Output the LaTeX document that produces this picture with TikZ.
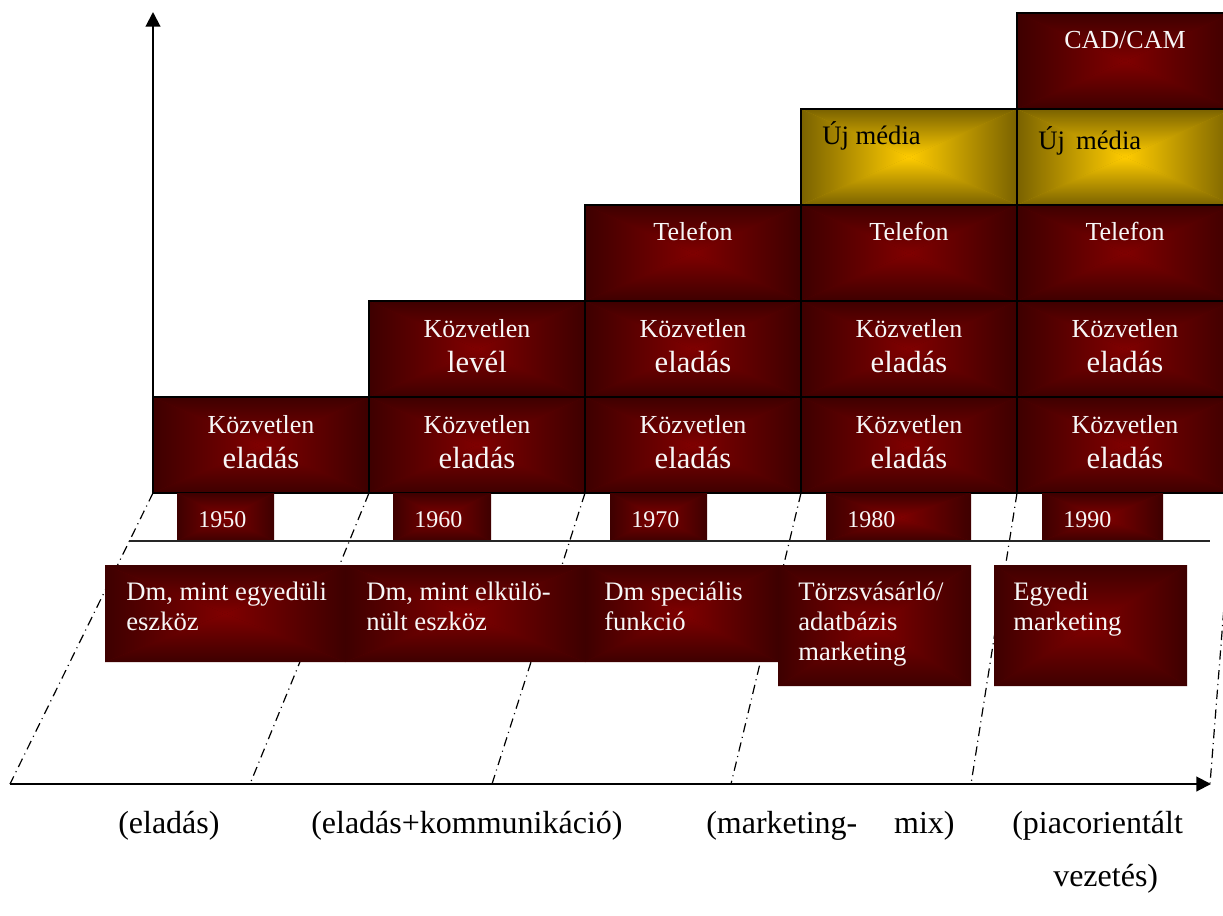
\documentclass[tikz,border=0pt]{standalone}
\usepackage{fontspec}
\setmainfont{Liberation Serif}
\usetikzlibrary{calc,arrows.meta}

\definecolor{redEdge}{HTML}{3E0000}
\definecolor{redMid}{HTML}{800000}
\definecolor{goldEdge}{HTML}{7A6200}
\definecolor{goldMid}{HTML}{FFCC00}

% rectangle filled with a centre-to-edge ("path") gradient
% #1,#2 = top-left corner, #3,#4 = bottom-right corner, #5 = edge colour, #6 = centre colour
\newcommand\gradbox[6]{%
  \coordinate (gc) at ($(#1,#2)!0.5!(#3,#4)$);
  \fill[#5!50!#6] (#1,#2) rectangle (#3,#4);
  \shade[top color=#5, bottom color=#6] (#1,#2) -- (#3,#2) -- (gc) -- cycle;
  \shade[top color=#6, bottom color=#5] (#1,#4) -- (#3,#4) -- (gc) -- cycle;
  \shade[left color=#5, right color=#6] (#1,#2) -- (#1,#4) -- (gc) -- cycle;
  \shade[left color=#6, right color=#5] (#3,#2) -- (#3,#4) -- (gc) -- cycle;
}
\newcommand\redbox[4]{\gradbox{#1}{#2}{#3}{#4}{redEdge}{redMid}}
\newcommand\goldbox[4]{\gradbox{#1}{#2}{#3}{#4}{goldEdge}{goldMid}}

\tikzset{
  txt/.style={inner sep=0pt, font=\fontsize{19.5}{22}\selectfont},
  wtxt/.style={txt, text=white!94!gray},
  dmtxt/.style={wtxt, font=\fontsize{20}{22}\selectfont},
  bigtxt/.style={wtxt, font=\fontsize{23}{26}\selectfont},
  yeartxt/.style={wtxt, font=\fontsize{18}{20}\selectfont},
  labtxt/.style={txt, text=black},
  eratxt/.style={txt, text=black, font=\fontsize{24}{26}\selectfont},
  cellframe/.style={draw=black, line width=1.5pt},
  axis/.style={line width=1.5pt, -{Triangle[length=11pt,width=11pt]}},
  guide/.style={line width=0.9pt, dash pattern=on 7pt off 3.5pt on 0.8pt off 3.5pt},
}

\begin{document}
\begin{tikzpicture}[x=0.75pt, y=-0.75pt]
\useasboundingbox (0,0) rectangle (1223,916);

% slanted guide lines from the column boundaries down to the time axis
\foreach \n/\xt/\xb in {1/153/10, 2/369/250, 3/585/492, 4/801/731, 5/1017/971, 6/1233/1210} {
  \coordinate (gt\n) at (\xt,493);
  \coordinate (gb\n) at (\xb,784);
  \draw[guide] (gt\n) -- (gb\n);
}

% ---------- stacked columns ----------
% row 1
\foreach \x/\xx in {153/369, 369/585, 585/801, 801/1017, 1017/1233} {\redbox{\x}{397}{\xx}{493}}
% row 2
\foreach \x/\xx in {369/585, 585/801, 801/1017, 1017/1233} {\redbox{\x}{301}{\xx}{397}}
% row 3
\foreach \x/\xx in {585/801, 801/1017, 1017/1233} {\redbox{\x}{205}{\xx}{301}}
% row 4 (new media)
\foreach \x/\xx in {801/1017, 1017/1233} {\goldbox{\x}{109}{\xx}{205}}
% row 5
\redbox{1017}{13}{1233}{109}

% cell frames
\foreach \x/\xx in {153/369, 369/585, 585/801, 801/1017, 1017/1233} {\draw[cellframe] (\x,397) rectangle (\xx,493);}
\foreach \x/\xx in {369/585, 585/801, 801/1017, 1017/1233} {\draw[cellframe] (\x,301) rectangle (\xx,397);}
\foreach \x/\xx in {585/801, 801/1017, 1017/1233} {\draw[cellframe] (\x,205) rectangle (\xx,301);}
\foreach \x/\xx in {801/1017, 1017/1233} {\draw[cellframe] (\x,109) rectangle (\xx,205);}
\draw[cellframe] (1017,13) rectangle (1233,109);

% cell texts
\foreach \n/\cx in {1/261, 2/477, 3/693, 4/909, 5/1125} {
  \node[wtxt, anchor=base] (k1\n) at (\cx,433) {Közvetlen};
  \node[bigtxt, anchor=base] (e1\n) at (\cx,468) {eladás};
}
\node[wtxt, anchor=base] (k22) at (477,337) {Közvetlen};
\node[bigtxt, anchor=base] (e22) at (477,372) {levél};
\foreach \n/\cx in {3/693, 4/909, 5/1125} {
  \node[wtxt, anchor=base] (k2\n) at (\cx,337) {Közvetlen};
  \node[bigtxt, anchor=base] (e2\n) at (\cx,372) {eladás};
  \node[wtxt, anchor=base] (t3\n) at (\cx,241) {Telefon};
}
\node[labtxt, anchor=base west, font=\fontsize{20}{22}\selectfont] (m4) at (822,145) {Új média};
\node[labtxt, anchor=base west, font=\fontsize{20}{22}\selectfont] (m5) at (1038,150) {Új\hspace{0.42em}média};
\node[wtxt, anchor=base] (cad) at (1125,49) {CAD/CAM};

% ---------- year strip ----------
\foreach \n/\x/\xx/\yr in {1/177/274/1950, 2/393/491/1960, 3/610/707/1970, 4/826/971/1980, 5/1042/1163/1990} {
  \redbox{\x}{493}{\xx}{541}
  \node[yeartxt, anchor=base west] (y\n) at (\x+21,527) {\yr};
}
\coordinate (sl) at (129,541);
\coordinate (sr) at (1210,541);
\draw[line width=1.5pt, black!85] (sl) -- (sr);

% ---------- role of direct marketing ----------
\redbox{105}{565}{345}{662}
\redbox{345}{565}{585}{662}
\redbox{585}{565}{778}{662}
\redbox{778}{565}{971}{686}
\redbox{994}{565}{1187}{686}
\node[dmtxt, anchor=base west] (d1a) at (126,600) {Dm, mint egyedüli};
\node[dmtxt, anchor=base west] (d1b) at (126,630) {eszköz};
\node[dmtxt, anchor=base west] (d2a) at (366,600) {Dm, mint elkülö-};
\node[dmtxt, anchor=base west] (d2b) at (366,630) {nült eszköz};
\node[dmtxt, anchor=base west] (d3a) at (604,600) {Dm speciális};
\node[dmtxt, anchor=base west] (d3b) at (604,630) {funkció};
\node[dmtxt, anchor=base west] (d4a) at (798,600) {Törzsvásárló/};
\node[dmtxt, anchor=base west] (d4b) at (798,630) {adatbázis};
\node[dmtxt, anchor=base west] (d4c) at (798,660) {marketing};
\node[dmtxt, anchor=base west] (d5a) at (1013,600) {Egyedi};
\node[dmtxt, anchor=base west] (d5b) at (1013,630) {marketing};

% ---------- axes ----------
\coordinate (o) at (153,397);
\coordinate (ytop) at (153,12);
\draw[axis] (o) -- (ytop);
\coordinate (xl) at (10,784);
\coordinate (xr) at (1211,784);
\draw[axis] (xl) -- (xr);

% ---------- eras ----------
\node[eratxt, anchor=base west] (p1) at (118,833) {(eladás)};
\node[eratxt, anchor=base west] (p2) at (311,833) {(eladás+kommunikáció)};
\node[eratxt, anchor=base west] (p3) at (706,833) {(marketing-\hspace{1.15em}mix)};
\node[eratxt, anchor=base west] (p4) at (1012,833) {(piacorientált};
\node[eratxt, anchor=base west] (p5) at (1053,886) {vezetés)};
\end{tikzpicture}
\end{document}
